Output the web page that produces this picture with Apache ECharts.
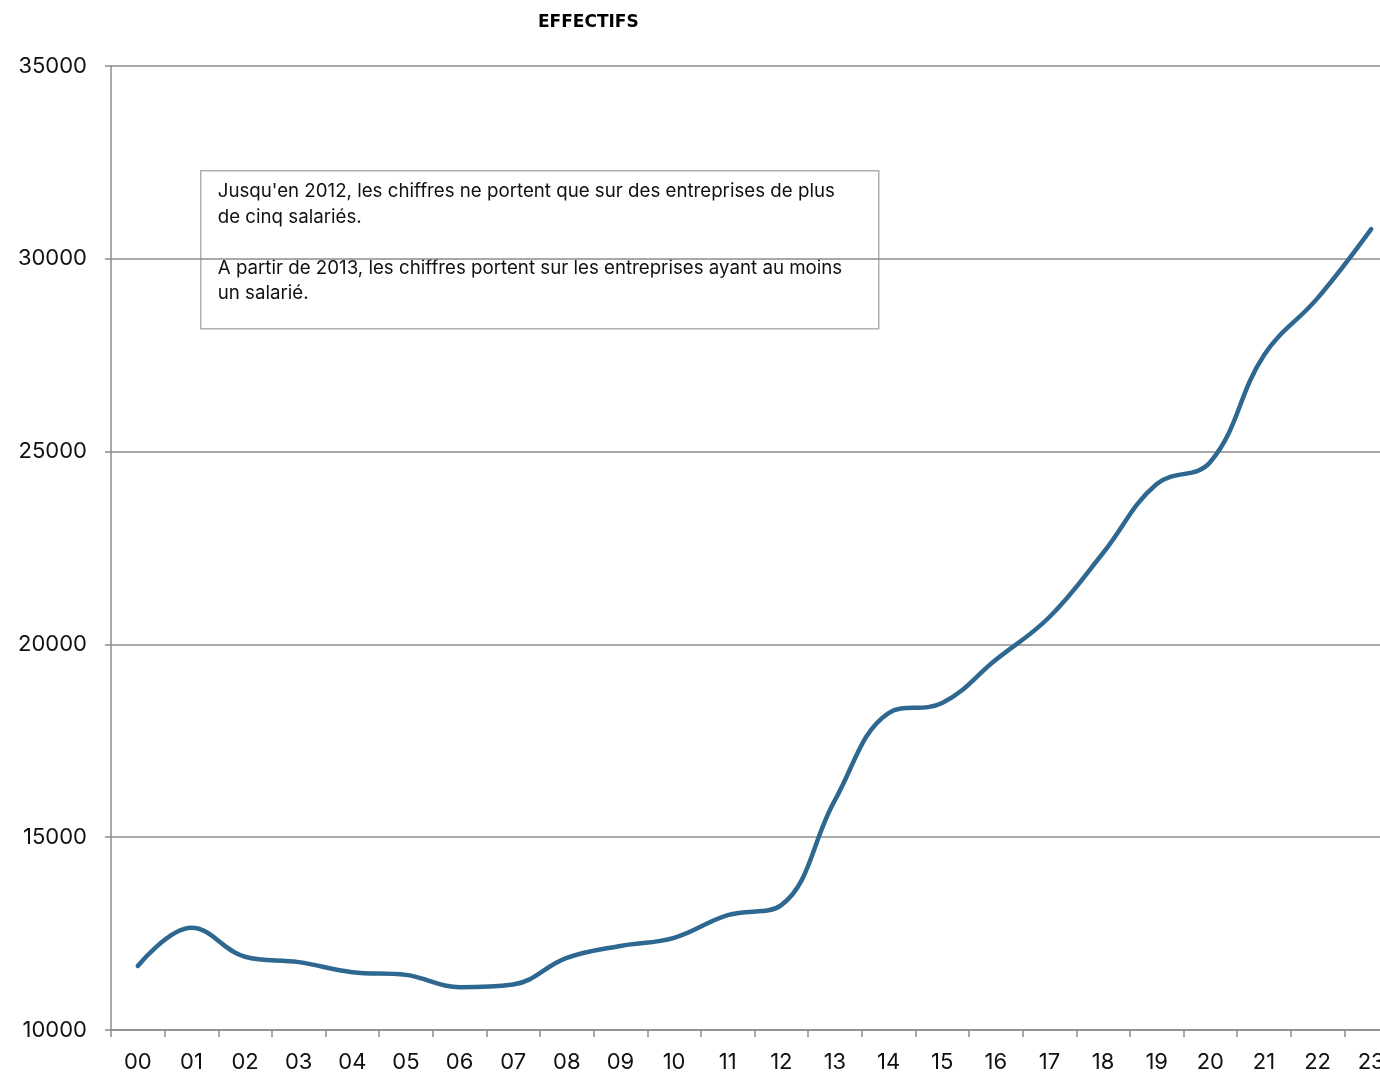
<!DOCTYPE html>
<html><head><meta charset="utf-8">
<script src="https://cdn.jsdelivr.net/npm/echarts@6/dist/echarts.min.js"></script>
<style>html,body{margin:0;padding:0;background:#fff;overflow:hidden;width:1380px;height:1075px}#c{width:1398px;height:1075px}</style>
</head><body><div id="c"></div>
<script>
const categories = ['00','01','02','03','04','05','06','07','08','09','10','11','12','13','14','15','16','17','18','19','20','21','22','23'];
const effectifs = [11660,12650,11900,11760,11500,11430,11110,11180,11870,12180,12390,12980,13240,15960,18220,18480,19600,20710,22370,24160,24730,27500,28980,30770];
const yTicks = [10000,15000,20000,25000,30000,35000];
const noteLines = [
  "Jusqu'en 2012, les chiffres ne portent que sur des entreprises de plus",
  "de cinq salariés.",
  "",
  "A partir de 2013, les chiffres portent sur les entreprises ayant au moins",
  "un salarié."
];
const FONT = 'Inter, "Noto Sans", sans-serif';
const chart = echarts.init(document.getElementById('c'));
chart.setOption({
  animation: false,
  title: {text: 'EFFECTIFS', left: 533, top: 9,
    textStyle: {fontFamily: '"DejaVu Sans", sans-serif', fontWeight: 'bold', fontSize: 17, color: '#000'}},
  grid: {left: 111, top: 66, bottom: 45, right: 0, containLabel: false},
  xAxis: {type: 'category', data: categories, boundaryGap: true,
    axisLine: {lineStyle: {color: '#8c8c8c', width: 1.5}},
    axisTick: {show: true, length: 7, lineStyle: {color: '#8c8c8c', width: 1.5}},
    axisLabel: {fontFamily: FONT, fontSize: 22, color: '#111', margin: 21}},
  yAxis: {type: 'value', min: yTicks[0], max: yTicks[yTicks.length-1], interval: 5000,
    axisLine: {show: true, lineStyle: {color: '#8c8c8c', width: 1.5}},
    axisTick: {show: true, length: 6, lineStyle: {color: '#8c8c8c', width: 1.5}},
    splitLine: {lineStyle: {color: '#8c8c8c', width: 1.5}},
    axisLabel: {fontFamily: FONT, fontSize: 22, color: '#111', margin: 24, formatter: v => String(v)}},
  series: [{type: 'line', data: effectifs, smooth: 0.4, symbol: 'none',
    lineStyle: {color: '#2e6891', width: 4.5, cap: 'round'}}],
  graphic: [{type: 'group', left: 200, top: 170, z: 100, children: [
    {type: 'rect', shape: {x: 0, y: 0, width: 678, height: 158},
      style: {fill: '#fff', stroke: '#b0b0b0', lineWidth: 1.5}},
    {type: 'text', x: 17, y: 8, style: {text: noteLines.join('\n'), fontFamily: FONT, fontSize: 18.7,
      lineHeight: 25.5, fill: '#111'}}
  ]}]
});
</script></body></html>
